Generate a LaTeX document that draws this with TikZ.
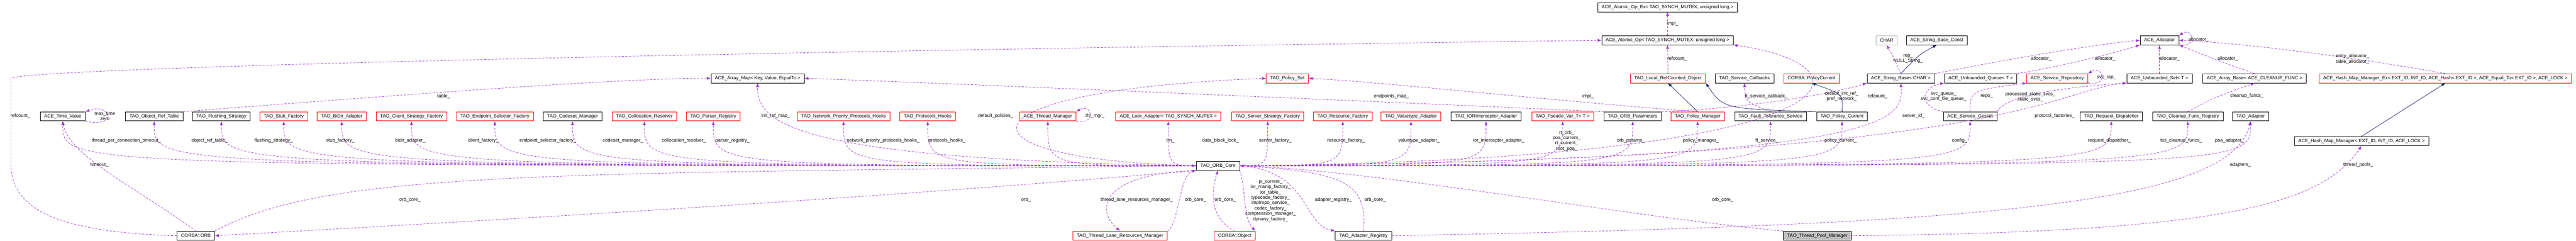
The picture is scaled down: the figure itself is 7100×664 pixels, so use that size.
\documentclass[tikz,border=0pt]{standalone}
\usepackage{fontspec}
\setmainfont{Liberation Sans}
\usepackage{underscore}
\usetikzlibrary{arrows.meta,calc}

\definecolor{memcol}{HTML}{9A32CD}
\definecolor{inhcol}{HTML}{191970}

\tikzset{
  classbox/.style={rectangle, draw=black, line width=0.3pt, inner xsep=1.1mm, inner ysep=0pt,
                   minimum height=2.5mm, font=\fontsize{3.7}{4.2}\selectfont},
  redbox/.style={classbox, draw=red},
  greybox/.style={classbox, draw=black!30},
  curbox/.style={classbox, fill=black!25},
  member/.style={draw=memcol, line width=0.3pt, dash pattern=on 0.6mm off 0.4mm,
                 -{Latex[length=1.1mm,width=0.8mm]}},
  inherit/.style={draw=inhcol, line width=0.3pt, -{Latex[length=1.1mm,width=0.8mm]}},
  edgetext/.style={font=\fontsize{3.7}{4.2}\selectfont, align=center, inner sep=0pt}
}

\begin{document}
\begin{tikzpicture}[x=0.1mm, y=-0.1mm]
\useasboundingbox (0,0) rectangle (7100,664);

% top rows
\node[classbox] (AtomicOpEx) at (4596,20) {ACE_Atomic_Op_Ex< TAO_SYNCH_MUTEX, unsigned long >};
\node[classbox] (AtomicOp) at (4596,111) {ACE_Atomic_Op< TAO_SYNCH_MUTEX, unsigned long >};
\node[greybox] (Chr) at (5200,111) {CHAR};
\node[classbox] (StrConst) at (5338,111) {ACE_String_Base_Const};
\node[classbox] (Allocator) at (5952,111) {ACE_Allocator};

% third row
\node[classbox] (ArrayMap) at (2088,216) {ACE_Array_Map< Key, Value, EqualTo >};
\node[redbox] (PolicySet) at (3548,216) {TAO_Policy_Set};
\node[redbox] (LocalRC) at (4597,216) {TAO_Local_RefCounted_Object};
\node[classbox] (SvcCallbacks) at (4808,216) {TAO_Service_Callbacks};
\node[redbox] (PolicyCurCorba) at (4993,216) {CORBA::PolicyCurrent};
\node[classbox] (StringBase) at (5239,216) {ACE_String_Base< CHAR >};
\node[classbox] (UnbQueue) at (5459,216) {ACE_Unbounded_Queue< T >};
\node[redbox] (SvcRepo) at (5670,216) {ACE_Service_Repository};
\node[classbox] (UnbSet) at (5952,216) {ACE_Unbounded_Set< T >};
\node[classbox] (ArrayBase) at (6214,216) {ACE_Array_Base< ACE_CLEANUP_FUNC >};
\node[redbox] (HashMapEx) at (6740,216) {ACE_Hash_Map_Manager_Ex< EXT_ID, INT_ID, ACE_Hash< EXT_ID >, ACE_Equal_To< EXT_ID >, ACE_LOCK >};

% member row
\node[classbox] (TimeValue) at (173,321) {ACE_Time_Value};
\node[classbox] (ObjRefTable) at (425,321) {TAO_Object_Ref_Table};
\node[classbox] (Flushing) at (610,321) {TAO_Flushing_Strategy};
\node[redbox] (StubFactory) at (782,321) {TAO_Stub_Factory};
\node[redbox] (BiDir) at (942,321) {TAO_BiDir_Adapter};
\node[redbox] (ClientFactory) at (1134,321) {TAO_Client_Strategy_Factory};
\node[redbox] (EndpointSel) at (1364,321) {TAO_Endpoint_Selector_Factory};
\node[classbox] (Codeset) at (1578,321) {TAO_Codeset_Manager};
\node[redbox] (Collocation) at (1776,321) {TAO_Collocation_Resolver};
\node[redbox] (Parser) at (1966,321) {TAO_Parser_Registry};
\node[redbox] (NetPrio) at (2325,321) {TAO_Network_Priority_Protocols_Hooks};
\node[redbox] (ProtoHooks) at (2557,321) {TAO_Protocols_Hooks};
\node[redbox] (ThreadMgr) at (2888,321) {ACE_Thread_Manager};
\node[redbox] (LockAdapter) at (3220,321) {ACE_Lock_Adapter< TAO_SYNCH_MUTEX >};
\node[redbox] (ServerFactory) at (3494,321) {TAO_Server_Strategy_Factory};
\node[redbox] (ResourceFactory) at (3701,321) {TAO_Resource_Factory};
\node[redbox] (Valuetype) at (3889,321) {TAO_Valuetype_Adapter};
\node[classbox] (IORInterceptor) at (4096,321) {TAO_IORInterceptor_Adapter};
\node[redbox] (PseudoVar) at (4307,321) {TAO_Pseudo_Var_T< T >};
\node[classbox] (OrbParams) at (4500,321) {TAO_ORB_Parameters};
\node[redbox] (PolicyMgr) at (4679,321) {TAO_Policy_Manager};
\node[classbox] (FaultTol) at (4880,321) {TAO_Fault_Tolerance_Service};
\node[classbox] (PolicyCurrent) at (5077,321) {TAO_Policy_Current};
\node[classbox] (Gestalt) at (5430,321) {ACE_Service_Gestalt};
\node[classbox] (RequestDisp) at (5819,321) {TAO_Request_Dispatcher};
\node[classbox] (CleanupReg) at (6030,321) {TAO_Cleanup_Func_Registry};
\node[classbox] (Adapter) at (6203,321) {TAO_Adapter};

\node[classbox] (HashMap) at (6509,389) {ACE_Hash_Map_Manager< EXT_ID, INT_ID, ACE_LOCK >};
\node[classbox] (OrbCore) at (3357,457) {TAO_ORB_Core};

% bottom row
\node[classbox] (Orb) at (540,650) {CORBA::ORB};
\node[redbox] (TLRM) at (3087,650) {TAO_Thread_Lane_Resources_Manager};
\node[redbox] (CorbaObject) at (3403,650) {CORBA::Object};
\node[classbox] (AdapterReg) at (3758,650) {TAO_Adapter_Registry};
\node[curbox] (TPM) at (5009,650) {TAO_Thread_Pool_Manager};

% ORB core members, left and right
\foreach \t/\lx/\txt in {TimeValue/348/thread_per_connection_timeout_, ObjRefTable/578/object_ref_table_,
    Flushing/754/flushing_strategy_, StubFactory/938/stub_factory_, BiDir/1131/bidir_adapter_,
    ClientFactory/1332/client_factory_, EndpointSel/1510/endpoint_selector_factory_,
    Codeset/1717/codeset_manager_, Collocation/1885/collocation_resolver_, Parser/2019/parser_registry_,
    NetPrio/2434/network_priority_protocols_hooks_, ProtoHooks/2610/protocols_hooks_,
    ThreadMgr/3226/tm_, LockAdapter/3364/data_block_lock_}
{
  \draw[member] (OrbCore.west) .. controls (\t.south |- OrbCore.west) .. (\t.south);
  \node[edgetext] (l\t) at (\lx,388) {\txt};
}
\foreach \t/\lx/\txt in {ServerFactory/3515/server_factory_, ResourceFactory/3710/resource_factory_,
    Valuetype/3911/valuetype_adapter_, IORInterceptor/4131/ior_interceptor_adapter_,
    OrbParams/4495/orb_params_, PolicyMgr/4688/policy_manager_, FaultTol/4870/ft_service_,
    PolicyCurrent/5073/policy_current_, Gestalt/5401/config_, RequestDisp/5814/request_dispatcher_,
    CleanupReg/6012/tss_cleanup_funcs_, Adapter/6145/poa_adapter_}
{
  \draw[member] (OrbCore.east) .. controls (\t.south |- OrbCore.east) .. (\t.south);
  \node[edgetext] (l\t) at (\lx,388) {\txt};
}
\draw[member] (OrbCore.east) .. controls (PseudoVar.south |- OrbCore.east) .. (PseudoVar.south);
\node[edgetext] (lPseudoVar) at (4318,388) {rt_orb_\\poa_current_\\rt_current_\\root_poa_};

\draw[member] (OrbCore.west) .. controls (2150,440) and (2088,330) .. (ArrayMap.south);
\node[edgetext] (lInitRef) at (2138,320) {init_ref_map_};
\draw[member] (OrbCore.west) .. controls (2600,440) and (2620,250) .. (PolicySet.west);
\node[edgetext] (lDefPol) at (2744,320) {default_policies_};
\draw[member] (OrbCore.east) .. controls (5240,440) and (5245,330) .. (StringBase.south);
\node[edgetext] (lServerId) at (5274,320) {server_id_};
\draw[member] (OrbCore.east) .. controls (5170,440) and (5180,180) .. (AtomicOp.south east);
\node[edgetext] (lRefCore) at (5175,266) {refcount_};
\draw[member] (OrbCore.east) .. controls (5550,440) and (5650,250) .. (UnbSet.south west);
\node[edgetext] (lProtoFac) at (5663,320) {protocol_factories_};

% self loops
\draw[member] (TimeValue.south east) .. controls +(90,20) and +(70,-25) .. (TimeValue.north east);
\node[edgetext] (lTimeLoop) at (289,320) {max_time\\zero};
\draw[member] (ThreadMgr.south east) .. controls +(60,10) and +(40,-25) .. (ThreadMgr.north east);
\node[edgetext] (lThrLoop) at (3018,320) {thr_mgr_};
\draw[member] (SvcRepo.south east) .. controls +(60,10) and +(40,-25) .. (SvcRepo.north east);
\node[edgetext] (lSvcLoop) at (5806,214) {svc_rep_};
\draw[member] (Allocator.south east) .. controls +(50,10) and +(40,-25) .. (Allocator.north east);
\node[edgetext] (lAllocLoop) at (6060,109) {allocator_};

% CORBA::ORB
\draw[member] (Orb.north) .. controls (380,520) and (190,430) .. (TimeValue.south);
\node[edgetext] (lTimeout) at (274,455) {timeout_};
\draw[member] (Orb.west) .. controls (120,640) and (30,560) .. (30,450) -- (30,215)
  .. controls (120,190) and (1500,150) .. (AtomicOp.west);
\node[edgetext] (lRefOrb) at (56,320) {refcount_};
\draw[member] (Orb.north east) .. controls (900,470) and (1500,480) .. (OrbCore.west);
\node[edgetext] (lOrbCore1) at (1130,551) {orb_core_};
\draw[member] (OrbCore.south west) .. controls (2500,540) and (1500,600) .. (Orb.east);
\node[edgetext] (lOrb) at (2828,551) {orb_};

% bottom members
\draw[member] (OrbCore.south west) .. controls (3030,480) and (3020,580) .. (TLRM.north);
\node[edgetext] (lTLRM) at (3133,551) {thread_lane_resources_manager_};
\draw[member] (TLRM.north east) .. controls (3250,620) and (3250,480) .. (OrbCore.south west);
\node[edgetext] (lOrbCore2) at (3295,551) {orb_core_};
\draw[member] (CorbaObject.north) .. controls (3330,600) and (3340,520) .. (OrbCore.south);
\node[edgetext] (lOrbCore3) at (3377,551) {orb_core_};
\draw[member] (OrbCore.south east) .. controls (3435,520) and (3425,600) .. (CorbaObject.north east);
\node[edgetext] (lObjMembers) at (3502,553) {pi_current_\\ior_manip_factory_\\ior_table_\\typecode_factory_\\implrepo_service_\\codec_factory_\\compression_manager_\\dynany_factory_};
\draw[member] (OrbCore.east) .. controls (3610,470) and (3590,620) .. (AdapterReg.north west);
\node[edgetext] (lAdReg) at (3675,551) {adapter_registry_};
\draw[member] (AdapterReg.north) .. controls (3770,500) and (3700,475) .. (OrbCore.east);
\node[edgetext] (lOrbCore4) at (3790,551) {orb_core_};
\draw[member] (TPM.north west) .. controls (4500,600) and (3800,470) .. (OrbCore.east);
\node[edgetext] (lOrbCore5) at (4748,551) {orb_core_};
\draw[member] (AdapterReg.east) .. controls (5500,620) and (6150,560) .. (Adapter.south);
\node[edgetext] (lAdapters) at (6175,455) {adapters_};
\draw[member] (TPM.east) .. controls (6150,640) and (6400,560) .. (HashMap.south);
\node[edgetext] (lThrPools) at (6500,455) {thread_pools_};

% upper members
\draw[member] (ObjRefTable.north east) .. controls (1000,270) and (1700,215) .. (ArrayMap.west);
\node[edgetext] (lTable) at (1223,266) {table_};
\draw[member] (OrbParams.north west) .. controls (3800,280) and (2500,225) .. (ArrayMap.east);
\node[edgetext] (lEndpoints) at (3835,266) {endpoints_map_};
\draw[member] (PolicyMgr.north) .. controls (4300,280) and (3800,225) .. (PolicySet.east);
\node[edgetext] (lImplPol) at (4377,266) {impl_};
\draw[member] (OrbParams.north east) .. controls (4800,300) and (5050,260) .. (StringBase.south west);
\node[edgetext] (lDefInit) at (5076,266) {default_init_ref_\\pref_network_};
\draw[member] (FaultTol.north) .. controls (4810,280) .. (SvcCallbacks.south);
\node[edgetext] (lFtCb) at (4868,266) {ft_service_callback_};
\draw[member] (LocalRC.north) -- (AtomicOp.south);
\node[edgetext] (lRefLrc) at (4623,162) {refcount_};
\draw[member] (AtomicOp.north) -- (AtomicOpEx.south);
\node[edgetext] (lImplAtom) at (4610,65) {impl_};
\draw[member] (StringBase.north) .. controls (5220,160) .. (Chr.south);
\node[edgetext] (lRep) at (5259,162) {rep_\\NULL_String_};
\draw[member] (StringBase.north east) .. controls (5500,170) and (5750,125) .. (Allocator.west);
\node[edgetext] (lAlloc1) at (5626,162) {allocator_};
\draw[member] (UnbQueue.north east) .. controls (5700,180) and (5850,140) .. (Allocator.south west);
\node[edgetext] (lAlloc2) at (5802,162) {allocator_};
\draw[member] (UnbSet.north) -- (Allocator.south);
\node[edgetext] (lAlloc3) at (5979,162) {allocator_};
\draw[member] (ArrayBase.north) .. controls (6120,170) .. (Allocator.south east);
\node[edgetext] (lAlloc4) at (6140,162) {allocator_};
\draw[member] (HashMapEx.north) .. controls (6500,160) and (6200,120) .. (Allocator.east);
\node[edgetext] (lHashAlloc) at (6484,163) {entry_allocator_\\table_allocator_};
\draw[member] (Gestalt.north west) .. controls (5280,290) and (5300,240) .. (UnbQueue.south west);
\node[edgetext] (lSvcQueue) at (5357,267) {svc_queue_\\svc_conf_file_queue_};
\draw[member] (Gestalt.north) .. controls (5430,250) .. (SvcRepo.south west);
\node[edgetext] (lRepo) at (5476,266) {repo_};
\draw[member] (Gestalt.north east) .. controls (5530,260) and (5700,240) .. (UnbSet.south west);
\node[edgetext] (lStatic) at (5596,267) {processed_static_svcs_\\static_svcs_};
\draw[member] (CleanupReg.north) .. controls (6100,270) .. (ArrayBase.south);
\node[edgetext] (lCleanup) at (6193,265) {cleanup_funcs_};

% inheritance
\draw[inherit] (PolicyMgr.north) -- (LocalRC.south);
\draw[inherit] (PolicyCurrent.north west) .. controls (4750,300) .. (LocalRC.south east);
\draw[inherit] (PolicyCurrent.north) .. controls (5080,260) .. (PolicyCurCorba.south);
\draw[inherit] (StringBase.north) .. controls (5290,150) .. (StrConst.south);
\draw[inherit] (HashMap.north) -- (HashMapEx.south);

\end{tikzpicture}
\end{document}
